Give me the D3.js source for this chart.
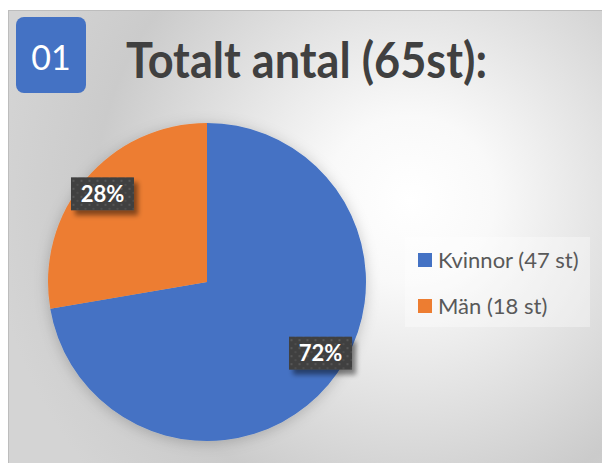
<!DOCTYPE html>
<html>
<head>
<meta charset="utf-8">
<script src="https://cdn.jsdelivr.net/npm/d3@7"></script>
<style>
  html, body { margin: 0; padding: 0; background: #fff; }
  svg { display: block; }
</style>
</head>
<body>
<div id="chart"></div>
<script>
// Data
const categories = ["Kvinnor", "Män"];
const counts = [47, 18];
const legendLabels = ["Kvinnor (47 st)", "Män (18 st)"];
const colors = ["#4472C4", "#ED7D31"];
const title = "Totalt antal (65st):";
const badge = "01";

const width = 602, height = 463;
const svg = d3.select("#chart").append("svg").attr("width", width).attr("height", height);
const defs = svg.append("defs");

// card background: soft radial light
const grad = defs.append("radialGradient").attr("id", "bg")
  .attr("gradientUnits", "userSpaceOnUse")
  .attr("cx", 410).attr("cy", 200).attr("r", 420);
grad.append("stop").attr("offset", 0).attr("stop-color", "#ffffff");
grad.append("stop").attr("offset", 0.2).attr("stop-color", "#f9f9f9");
grad.append("stop").attr("offset", 0.75).attr("stop-color", "#cbcbcb");
grad.append("stop").attr("offset", 1).attr("stop-color", "#d4d4d4");

const pieShadow = defs.append("filter").attr("id", "pieShadow")
  .attr("x", "-20%").attr("y", "-20%").attr("width", "140%").attr("height", "140%");
pieShadow.append("feDropShadow").attr("dx", 0).attr("dy", 2).attr("stdDeviation", 7)
  .attr("flood-color", "#000").attr("flood-opacity", 0.2);

const boxShadow = defs.append("filter").attr("id", "boxShadow")
  .attr("x", "-30%").attr("y", "-30%").attr("width", "160%").attr("height", "170%");
boxShadow.append("feDropShadow").attr("dx", 4).attr("dy", 5).attr("stdDeviation", 2.5)
  .attr("flood-color", "#000").attr("flood-opacity", 0.45);

// dotted fill for data label boxes
const pat = defs.append("pattern").attr("id", "dots")
  .attr("patternUnits", "userSpaceOnUse").attr("width", 8).attr("height", 8);
pat.append("rect").attr("width", 8).attr("height", 8).attr("fill", "#404040");
pat.append("rect").attr("x", 2).attr("y", 2).attr("width", 2).attr("height", 2).attr("fill", "#575757");
pat.append("rect").attr("x", 6).attr("y", 6).attr("width", 2).attr("height", 2).attr("fill", "#4d4d4d");

svg.append("rect")
  .attr("x", 8.5).attr("y", 10.5).attr("width", width).attr("height", height)
  .attr("fill", "url(#bg)").attr("stroke", "#bdbdbd");

// badge
svg.append("rect").attr("x", 16).attr("y", 17).attr("width", 70).attr("height", 76)
  .attr("rx", 8).attr("fill", "#4472C4");
svg.append("text").attr("x", 51).attr("y", 70).attr("text-anchor", "middle")
  .attr("font-family", "Lato, sans-serif").attr("font-size", 34).attr("fill", "#fff")
  .text(badge);

// title
const titleText = svg.append("text").attr("x", 126).attr("y", 78)
  .attr("font-family", "Lato, sans-serif").attr("font-weight", 700)
  .attr("font-size", 50).attr("fill", "#404040").text(title);
if (titleText.node().getComputedTextLength() > 361) {
  titleText.attr("textLength", 361).attr("lengthAdjust", "spacingAndGlyphs");
}

// pie
const cx = 207, cy = 282, r = 159;
const pie = d3.pie().sort(null).value(d => d)(counts);
const arc = d3.arc().innerRadius(0).outerRadius(r);
const labelArc = d3.arc().innerRadius(r * 0.86).outerRadius(r * 0.86);
const color = d3.scaleOrdinal().domain(categories).range(colors);
const pct = d3.format(".0%");
const total = d3.sum(counts);
const labelNudge = { "Kvinnor": [9, -17], "Män": [0, 0] };

const g = svg.append("g").attr("transform", `translate(${cx},${cy})`);
g.append("g").attr("filter", "url(#pieShadow)")
  .selectAll("path").data(pie).join("path")
  .attr("d", arc)
  .attr("fill", (d, i) => color(categories[i]));

const labels = g.selectAll("g.label").data(pie).join("g")
  .attr("class", "label")
  .attr("transform", (d, i) => {
    const [x, y] = labelArc.centroid(d);
    const [nx, ny] = labelNudge[categories[i]];
    return `translate(${x + nx},${y + ny})`;
  });
labels.append("rect")
  .attr("x", -31.5).attr("y", -16.5).attr("width", 63).attr("height", 33)
  .attr("fill", "url(#dots)").attr("filter", "url(#boxShadow)");
labels.append("text")
  .attr("text-anchor", "middle").attr("dy", "0.36em")
  .attr("font-family", "Lato, sans-serif").attr("font-weight", 700)
  .attr("font-size", 22).attr("fill", "#fff")
  .text(d => pct(d.data / total));

// legend
const legend = svg.append("g");
legend.append("rect").attr("x", 405).attr("y", 237).attr("width", 185).attr("height", 90)
  .attr("fill", "#fff").attr("fill-opacity", 0.35);
const row = d3.scalePoint().domain(categories).range([260, 306]);
const item = legend.selectAll("g.item").data(categories).join("g")
  .attr("class", "item")
  .attr("transform", d => `translate(418,${row(d)})`);
item.append("rect").attr("x", 0).attr("y", -7).attr("width", 14).attr("height", 14)
  .attr("fill", d => color(d));
item.append("text").attr("x", 20).attr("dy", "0.36em")
  .attr("font-family", "Lato, sans-serif").attr("font-size", 22).attr("fill", "#595959")
  .text((d, i) => legendLabels[i]);
</script>
</body>
</html>
